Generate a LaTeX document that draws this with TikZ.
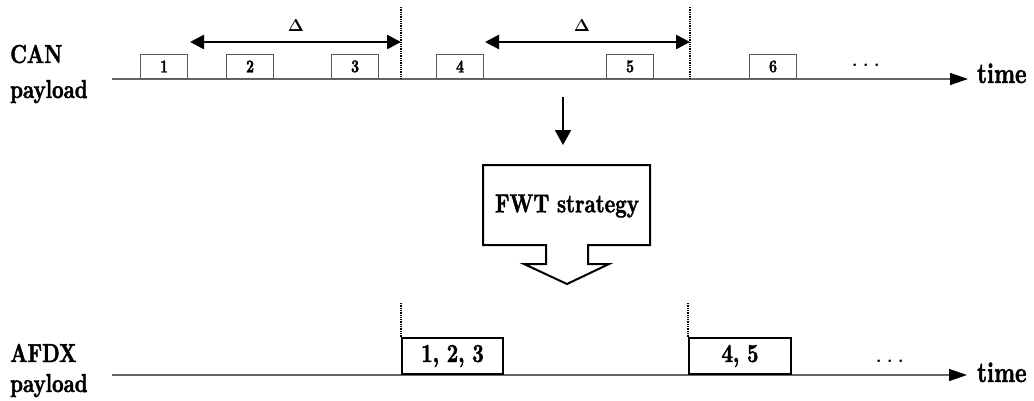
\documentclass[tikz,border=0pt]{standalone}
\usepackage{amsmath}
\usepackage{fontspec}
\setmainfont{lmroman10}[Extension=.otf, UprightFont=*-regular, BoldFont=*-bold, ItalicFont=*-italic, BoldItalicFont=*-bolditalic, FakeStretch=0.77, BoldFeatures={FakeBold=1.6}]
\usetikzlibrary{arrows.meta}
\begin{document}
\begin{tikzpicture}[x=1pt,y=-1pt,
  lbl/.style={font=\fontsize{26}{28}\selectfont\bfseries, inner sep=0},
  timelbl/.style={font=\fontsize{28.5}{28}\selectfont\bfseries, inner sep=0, anchor=base west},
  axis/.style={draw=black!60, line width=1.4pt, -{Triangle[length=18pt,width=12pt,fill=black,color=black]}},
  canbox/.style={draw=black!65, line width=1.1pt, minimum width=47pt, minimum height=24pt, inner sep=0, anchor=south west, font=\fontsize{18}{18}\selectfont\bfseries},
  afdxbox/.style={draw=black, line width=2pt, minimum width=101pt, minimum height=36pt, inner sep=0, anchor=south west, font=\fontsize{26}{28}\selectfont\bfseries},
  dline/.style={densely dotted, line width=1.3pt},
  delta/.style={line width=2.6pt, {Triangle[length=14pt,width=14pt]}-{Triangle[length=14pt,width=14pt]}},
  dots/.style={font=\fontsize{32}{32}\selectfont\bfseries, inner sep=0},
]
\useasboundingbox (0,0) rectangle (1034,400);

% labels
\node[lbl, anchor=base west] (can) at (10,63) {CAN};
\node[lbl, anchor=base west] (canp) at (10,98) {payload};
\node[lbl, anchor=base west] (afdx) at (10,362) {AFDX};
\node[lbl, anchor=base west] (afdxp) at (10,392) {payload};

% top axis
\coordinate (t0) at (112,79);
\coordinate (t1) at (968,79);
\draw[axis] (t0) -- (t1);
\node[timelbl] (time1) at (977,83) {time};

% CAN boxes
\node[canbox] (b1) at (140,79) {1};
\node[canbox] (b2) at (226,79) {2};
\node[canbox] (b3) at (331,79) {3};
\node[canbox] (b4) at (436,79) {4};
\node[canbox] (b5) at (606,79) {5};
\node[canbox] (b6) at (749,79) {6};
\node[dots] (d1) at (868,66) {$\cdots$};

% deadlines top
\coordinate (v1t) at (401,7);
\coordinate (v1b) at (401,79);
\coordinate (v2t) at (690,7);
\coordinate (v2b) at (690,79);
\draw[dline] (v1t) -- (v1b);
\draw[dline] (v2t) -- (v2b);

% Delta arrows
\coordinate (a1s) at (190,42);
\coordinate (a1e) at (401,42);
\coordinate (a2s) at (485,42);
\coordinate (a2e) at (690,42);
\draw[delta] (a1s) -- (a1e);
\draw[delta] (a2s) -- (a2e);
\node[font=\fontsize{19}{19}\selectfont, inner sep=0] (D1) at (296,26) {$\boldsymbol{\Delta}$};
\node[font=\fontsize{19}{19}\selectfont, inner sep=0] (D2) at (582,26) {$\boldsymbol{\Delta}$};

% down arrow
\coordinate (da0) at (563,97);
\coordinate (da1) at (563,145);
\draw[line width=2pt, -{Triangle[length=15pt,width=16pt]}] (da0) -- (da1);

% FWT block arrow
\draw[line width=2pt, line join=miter] (483,165) -- (650,165) -- (650,245) -- (588,245) -- (588,264) -- (609,264) -- (567,284) -- (524,264) -- (546,264) -- (546,245) -- (483,245) -- cycle;
\node[lbl] (fwt) at (567,206) {FWT strategy};

% bottom axis
\coordinate (u0) at (112,375);
\coordinate (u1) at (967,375);
\draw[axis] (u0) -- (u1);
\node[timelbl] (time2) at (977,382) {time};

% deadlines bottom
\coordinate (w1t) at (401,303);
\coordinate (w2t) at (688,303);
\node[afdxbox] (f1) at (401,375) {1, 2, 3};
\node[afdxbox, minimum width=102pt] (f2) at (688,375) {4, 5};
\draw[dline] (w1t) -- (f1.north west);
\draw[dline] (w2t) -- (f2.north west);
\node[dots] (d2) at (892,362) {$\cdots$};
\end{tikzpicture}
\end{document}
